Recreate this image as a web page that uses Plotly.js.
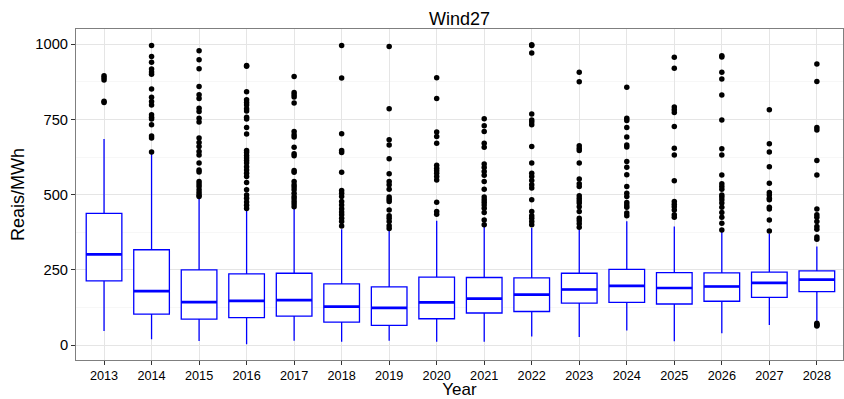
<!DOCTYPE html>
<html><head><meta charset="utf-8">
<script src="https://cdn.plot.ly/plotly-3.0.1.min.js"></script>
<style>html,body{margin:0;padding:0;background:#fff}#chart{width:844px;height:399px}</style>
</head><body><div id="chart"></div>
<script>
const years = ['2013','2014','2015','2016','2017','2018','2019','2020','2021','2022','2023','2024','2025','2026','2027','2028'];
const lowerWhisker = [47, 20, 14, 3, 15, 12, 15, 12, 12, 29, 27, 49, 13, 40, 67, 81];
const q1 = [214, 103, 87, 92, 97, 77, 66, 88, 107, 112, 140, 142, 137, 146, 159, 178];
const medians = [302, 180, 143, 147, 150, 128, 124, 142, 155, 168, 185, 197, 190, 195, 207, 218];
const q3 = [438, 317, 250, 237, 239, 204, 194, 226, 225, 224, 239, 252, 241, 240, 243, 247];
const upperWhisker = [685, 635, 492, 450, 455, 385, 383, 413, 394, 389, 385, 412, 394, 377, 370, 328];

const out2013 = [895, 888, 881, 810, 806];
const out2014 = [995, 959, 940, 917, 907, 900, 851, 823, 809, 798, 765, 757, 751, 732, 695, 688, 642];
const out2015 = [978, 948, 918, 859, 832, 819, 787, 776, 754, 741, 688, 673, 660, 643, 632, 605, 582, 575, 544, 535, 527, 516, 507, 499, 494];
const out2016 = [929, 926, 842, 815, 806, 798, 785, 778, 757, 751, 723, 701, 647, 640, 630, 622, 613, 605, 593, 582, 571, 560, 540, 516, 499, 488, 476, 465, 454];
const out2017 = [892, 839, 832, 824, 804, 710, 699, 691, 657, 636, 629, 580, 574, 544, 533, 525, 516, 505, 494, 486, 477, 469, 460];
const out2018 = [995, 887, 702, 647, 640, 574, 514, 505, 494, 477, 466, 453, 442, 433, 422, 411, 396];
const out2019 = [992, 785, 682, 665, 619, 569, 544, 533, 518, 492, 485, 477, 449, 430, 422, 411, 397, 388];
const out2020 = [888, 819, 708, 693, 671, 598, 588, 579, 571, 560, 549, 475, 444, 435];
const out2021 = [752, 729, 710, 671, 657, 602, 590, 577, 564, 544, 518, 492, 483, 475, 466, 455, 441, 416, 400];
const out2022 = [998, 995, 970, 768, 748, 741, 732, 660, 605, 571, 560, 547, 533, 522, 483, 444, 430, 422, 411, 400];
const out2023 = [906, 875, 662, 654, 647, 605, 552, 536, 527, 496, 488, 480, 472, 460, 444, 422, 413, 403, 392];
const out2024 = [857, 754, 746, 723, 691, 665, 658, 610, 591, 566, 527, 505, 494, 474, 466, 458, 439, 430];
const out2025 = [956, 920, 791, 782, 773, 726, 654, 632, 546, 477, 468, 460, 449, 433, 425];
const out2026 = [961, 957, 906, 884, 831, 748, 652, 632, 565, 536, 527, 518, 499, 492, 483, 472, 458, 441, 425, 405, 383];
const out2027 = [782, 669, 642, 593, 538, 507, 499, 488, 483, 458, 452, 416, 379];
const out2028 = [934, 876, 723, 715, 613, 565, 452, 433, 425, 411, 394, 385, 359, 352, 73, 70, 66, 64];
const outliers = [out2013, out2014, out2015, out2016, out2017, out2018, out2019, out2020, out2021, out2022, out2023, out2024, out2025, out2026, out2027, out2028];

const yTicks = [0, 250, 500, 750, 1000];
const chartTitle = 'Wind27';
const xTitle = 'Year';
const yTitle = 'Reais/MWh';

const boxWidth = 0.75;
const FONT = 'Liberation Sans, Arial, Helvetica, sans-serif';

const outX = [], outY = [];
outliers.forEach((arr, i) => arr.forEach(v => { outX.push(years[i]); outY.push(v); }));

const boxTrace = {
  type: 'box',
  x: years,
  q1: q1, median: medians, q3: q3,
  lowerfence: lowerWhisker, upperfence: upperWhisker,
  boxpoints: false,
  width: boxWidth,
  whiskerwidth: 0,
  fillcolor: '#ffffff',
  line: {color: '#0000ff', width: 1.3},
  hoverinfo: 'skip',
  showlegend: false
};

const pointTrace = {
  type: 'scatter', mode: 'markers',
  x: outX, y: outY,
  marker: {color: '#000000', size: 5.5},
  hoverinfo: 'skip', showlegend: false, cliponaxis: false
};

const medianShapes = medians.map((m, i) => ({
  type: 'line', xref: 'x', yref: 'y',
  x0: i - boxWidth / 2, x1: i + boxWidth / 2, y0: m, y1: m,
  line: {color: '#0000ff', width: 2.7}
}));

const layout = {
  width: 844, height: 399,
  margin: {l: 76, r: 1, t: 29, b: 39},
  paper_bgcolor: '#ffffff', plot_bgcolor: '#ffffff',
  font: {family: FONT, color: '#000000'},
  title: {text: chartTitle, font: {size: 18, color: '#000'}, x: 0.5, xref: 'paper', y: 1 - 18.5/399, yref: 'container', yanchor: 'middle'},
  xaxis: {
    type: 'category', range: [-0.59, 15.55],
    showgrid: true, gridcolor: '#e5e5e5', gridwidth: 1,
    showline: true, linecolor: '#7f7f7f', linewidth: 1, mirror: true,
    ticks: 'outside', ticklen: 4, tickcolor: '#333333', tickwidth: 1,
    tickfont: {size: 12.7, color: '#000'},
    title: {text: xTitle, font: {size: 17, color: '#000'}, standoff: 3},
    zeroline: false, fixedrange: true
  },
  yaxis: {
    range: [-49, 1050], tickvals: yTicks, ticktext: yTicks.map(String),
    showgrid: true, gridcolor: '#e5e5e5', gridwidth: 1,
    minor: {dtick: 125, tick0: 125, showgrid: true, gridcolor: '#f7f7f7', gridwidth: 1, ticks: ''},
    showline: true, linecolor: '#7f7f7f', linewidth: 1, mirror: true,
    ticks: 'outside', ticklen: 4, tickcolor: '#333333', tickwidth: 1,
    tickfont: {size: 14.7, color: '#000'},
    title: {text: yTitle, font: {size: 18, color: '#000'}, standoff: 6},
    zeroline: false, fixedrange: true
  },
  shapes: medianShapes
};

Plotly.newPlot('chart', [boxTrace, pointTrace], layout, {displayModeBar: false, staticPlot: true});
</script>
</body></html>
